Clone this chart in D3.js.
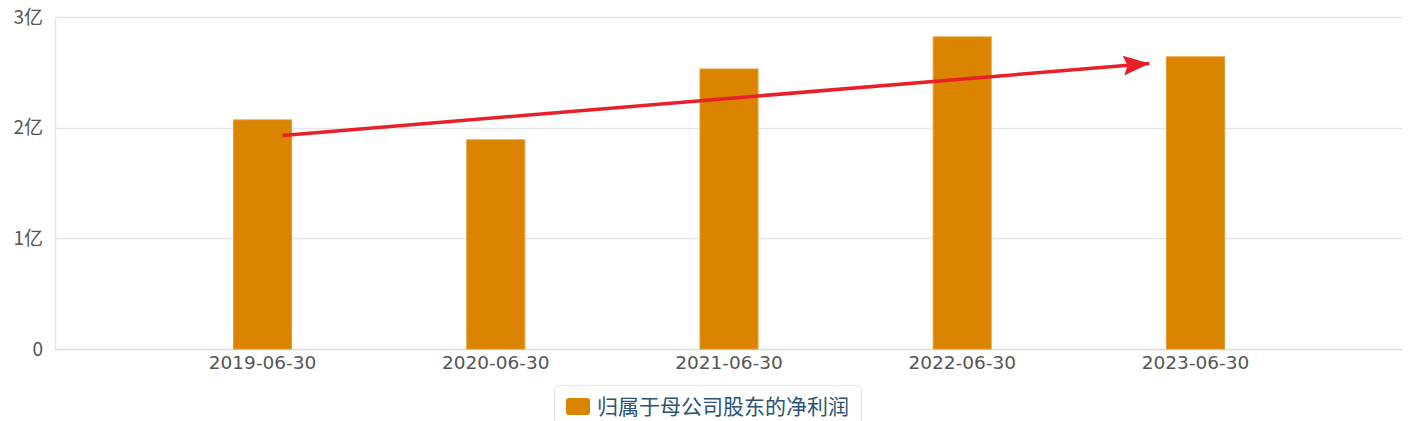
<!DOCTYPE html>
<html>
<head>
<meta charset="utf-8">
<script src="https://cdn.jsdelivr.net/npm/d3@7/dist/d3.min.js"></script>
<style>
  html, body { margin: 0; padding: 0; background: #fff; }
  svg { display: block; font-family: "Noto Sans CJK SC", "DejaVu Sans", sans-serif; }
</style>
</head>
<body>
<div id="chart"></div>
<script>
// report dates and net profit attributable to parent shareholders (亿)
var categories = ["2019-06-30", "2020-06-30", "2021-06-30", "2022-06-30", "2023-06-30"];
var profitValues = [2.07, 1.89, 2.53, 2.82, 2.64];
var yTicks = [0, 1, 2, 3];
var yTickLabels = ["0", "1亿", "2亿", "3亿"];
var seriesName = "归属于母公司股东的净利润";
// trend arrow, from the first report to the last (value units)
var arrowFrom = [categories[0], 1.93];
var arrowTo = [categories[4], 2.58];

var width = 1423, height = 421;
var margin = {top: 17, right: 20, bottom: 72, left: 55};
var barColor = "#da8400";

var svg = d3.select("#chart").append("svg")
  .attr("width", width)
  .attr("height", height);

var x = d3.scalePoint()
  .domain(categories)
  .range([margin.left, width - margin.right])
  .padding(0.89);

var y = d3.scaleLinear()
  .domain([0, 3])
  .range([height - margin.bottom, margin.top]);

// grid
svg.append("g")
  .selectAll("line")
  .data(yTicks)
  .enter().append("line")
  .attr("x1", margin.left)
  .attr("x2", width - margin.right)
  .attr("y1", function(d){ return Math.round(y(d)) + 0.5; })
  .attr("y2", function(d){ return Math.round(y(d)) + 0.5; })
  .attr("stroke", function(d){ return d === 0 ? "#dcdcdc" : "#e6e6e6"; })
  .attr("stroke-width", 1.5);

svg.append("line")
  .attr("x1", margin.left + 0.5).attr("x2", margin.left + 0.5)
  .attr("y1", y(3)).attr("y2", y(0))
  .attr("stroke", "#e6e6e6")
  .attr("stroke-width", 1.5);

// y labels
svg.append("g")
  .selectAll("text")
  .data(yTicks)
  .enter().append("text")
  .attr("x", 43)
  .attr("y", function(d){ return y(d); })
  .attr("dy", "0.35em")
  .attr("text-anchor", "end")
  .attr("font-size", 19)
  .attr("fill", "#555")
  .text(function(d, i){ return yTickLabels[i]; });

// x labels
svg.append("g")
  .selectAll("text")
  .data(categories)
  .enter().append("text")
  .attr("x", function(d){ return x(d); })
  .attr("y", y(0) + 20)
  .attr("text-anchor", "middle")
  .attr("font-size", 18.5)
  .attr("font-family", "'DejaVu Sans', sans-serif")
  .attr("fill", "#555")
  .text(function(d){ return d; });

// bars
var barW = 58;
svg.append("g")
  .selectAll("rect")
  .data(profitValues)
  .enter().append("rect")
  .attr("x", function(d, i){ return x(categories[i]) - barW / 2; })
  .attr("y", function(d){ return y(d); })
  .attr("width", barW)
  .attr("height", function(d){ return y(0) - y(d); })
  .attr("fill", barColor)
  .attr("stroke", "#e49a2e")
  .attr("stroke-width", 1);

// trend arrow
var defs = svg.append("defs");
defs.append("marker")
  .attr("id", "arrowHead")
  .attr("viewBox", "0 0 26 20")
  .attr("refX", 26).attr("refY", 10)
  .attr("markerWidth", 26).attr("markerHeight", 20)
  .attr("markerUnits", "userSpaceOnUse")
  .attr("orient", "auto")
  .append("path")
  .attr("d", "M0,0 L26,10 L0,20 L4,10 Z")
  .attr("fill", "#e8202a");

svg.append("line")
  .attr("x1", x(arrowFrom[0]) + 20)
  .attr("y1", y(arrowFrom[1]))
  .attr("x2", x(arrowTo[0]) - 46)
  .attr("y2", y(arrowTo[1]))
  .attr("stroke", "#e8202a")
  .attr("stroke-width", 3.5)
  .attr("marker-end", "url(#arrowHead)");

// legend
var legend = svg.append("g");
legend.append("rect")
  .attr("x", 554.5).attr("y", 385.5)
  .attr("width", 307).attr("height", 50)
  .attr("rx", 5)
  .attr("fill", "#fff")
  .attr("stroke", "#e3e3e3");
legend.append("rect")
  .attr("x", 566).attr("y", 398)
  .attr("width", 24).attr("height", 17)
  .attr("rx", 3)
  .attr("fill", barColor);
legend.append("text")
  .attr("x", 597).attr("y", 407)
  .attr("dy", "0.35em")
  .attr("font-size", 21)
  .attr("fill", "#2c5275")
  .text(seriesName);
</script>
</body>
</html>
